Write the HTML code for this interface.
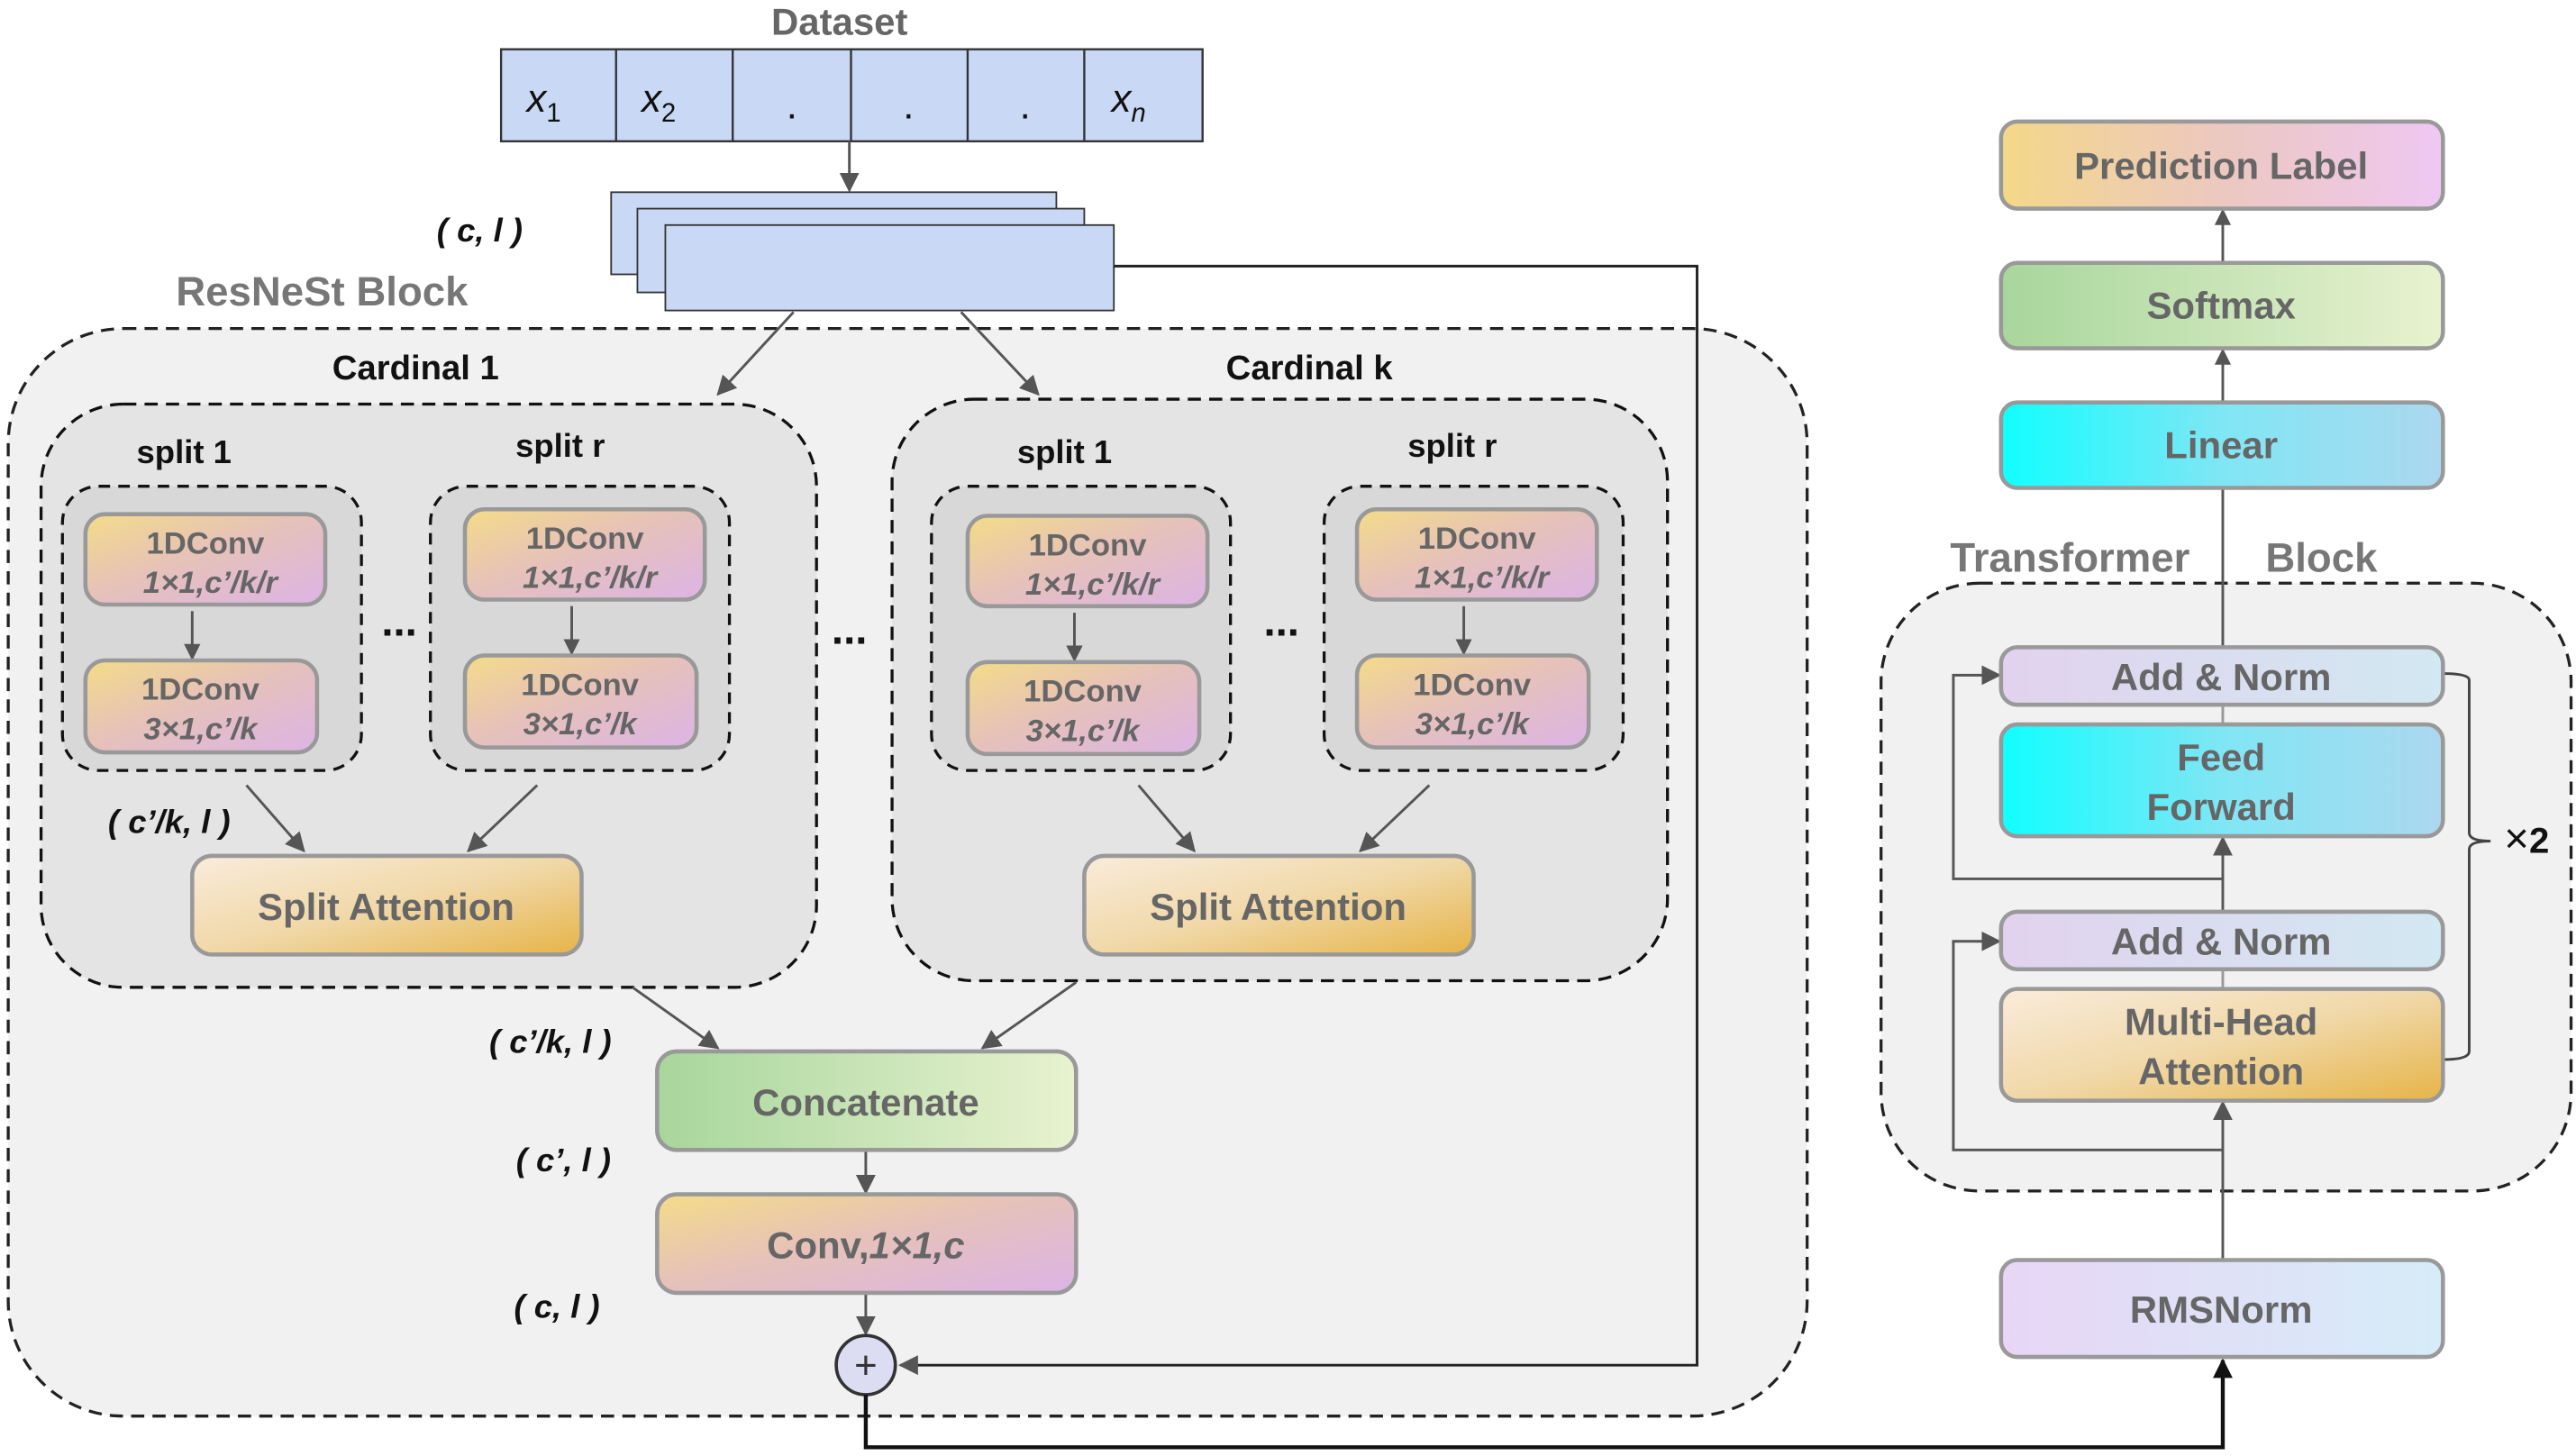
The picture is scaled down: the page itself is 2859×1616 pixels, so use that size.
<!DOCTYPE html>
<html><head><meta charset="utf-8"><style>
html,body{margin:0;padding:0;background:#fff;}
svg{display:block;}
text{font-family:"Liberation Sans",Arial,sans-serif;}
</style></head><body>
<svg width="2859" height="1616" viewBox="0 0 1568 886.3" preserveAspectRatio="none" xmlns="http://www.w3.org/2000/svg">
<defs>
<linearGradient id="gp" x1="0" y1="0" x2="1" y2="1"><stop offset="0" stop-color="#f4dc88"/><stop offset="0.45" stop-color="#e6c2b8"/><stop offset="1" stop-color="#dcb4e6"/></linearGradient>
<linearGradient id="ga" x1="0" y1="0" x2="1" y2="1"><stop offset="0" stop-color="#faecdc"/><stop offset="0.5" stop-color="#f0d8a8"/><stop offset="1" stop-color="#e6b448"/></linearGradient>
<linearGradient id="gg" x1="0" y1="0" x2="1" y2="0"><stop offset="0" stop-color="#a8d69c"/><stop offset="1" stop-color="#e8f2d0"/></linearGradient>
<linearGradient id="gc" x1="0" y1="0" x2="1" y2="0"><stop offset="0" stop-color="#10feff"/><stop offset="0.5" stop-color="#80e6f4"/><stop offset="1" stop-color="#acd8f0"/></linearGradient>
<linearGradient id="gl" x1="0" y1="0" x2="1" y2="0"><stop offset="0" stop-color="#e2d2ee"/><stop offset="1" stop-color="#d2e8f2"/></linearGradient>
<linearGradient id="gr" x1="0" y1="0" x2="1" y2="0"><stop offset="0" stop-color="#e8d6f6"/><stop offset="1" stop-color="#d6ecf8"/></linearGradient>
<linearGradient id="gpl" x1="0" y1="0" x2="1" y2="0"><stop offset="0" stop-color="#f4d888"/><stop offset="0.5" stop-color="#ecc8c0"/><stop offset="1" stop-color="#eec8f2"/></linearGradient>
<marker id="ah" viewBox="0 0 10 10" refX="9" refY="5" markerWidth="10" markerHeight="10" orient="auto" markerUnits="userSpaceOnUse"><path d="M0,0 L10,5 L0,10 z" fill="#555"/></marker>
<marker id="a2" viewBox="0 0 10 10" refX="9" refY="5" markerWidth="12" markerHeight="12" orient="auto" markerUnits="userSpaceOnUse"><path d="M0,0 L10,5 L0,10 z" fill="#555"/></marker>
<marker id="ak" viewBox="0 0 10 10" refX="9" refY="5" markerWidth="12" markerHeight="14" orient="auto" markerUnits="userSpaceOnUse"><path d="M0,0 L10,5 L0,10 z" fill="#111"/></marker>
</defs>

<!-- Dataset -->
<text x="511" y="21" text-anchor="middle" font-size="23" font-weight="bold" fill="#666">Dataset</text>
<rect x="305" y="30" width="427" height="56" fill="#c9d9f5" stroke="#333" stroke-width="1.3"/>
<g stroke="#333" stroke-width="1.3"><line x1="375" y1="30" x2="375" y2="86"/><line x1="446" y1="30" x2="446" y2="86"/><line x1="518" y1="30" x2="518" y2="86"/><line x1="589" y1="30" x2="589" y2="86"/><line x1="660" y1="30" x2="660" y2="86"/></g>
<g font-family="DejaVu Serif, serif" font-style="italic" font-size="24" fill="#111" text-anchor="middle">
<text x="331" y="68">x<tspan font-size="16" dy="6" font-style="normal">1</tspan></text>
<text x="401" y="68">x<tspan font-size="16" dy="6" font-style="normal">2</tspan></text>
<text x="482" y="72" font-style="normal">.</text><text x="553" y="72" font-style="normal">.</text><text x="624" y="72" font-style="normal">.</text>
<text x="687" y="68">x<tspan font-size="16" dy="6">n</tspan></text>
</g>
<line x1="517" y1="86" x2="517" y2="116" stroke="#555" stroke-width="1.6" marker-end="url(#a2)"/>

<!-- outer ResNeSt -->
<rect x="5" y="200" width="1095" height="662" rx="70" fill="#f1f1f1" stroke="#222" stroke-width="1.8" stroke-dasharray="8,5"/>
<text x="196" y="186" text-anchor="middle" font-size="25" font-weight="bold" fill="#777">ResNeSt Block</text>

<!-- stack -->
<rect x="372" y="117" width="271" height="50" fill="#c9d9f5" stroke="#333" stroke-width="1"/>
<rect x="388" y="127" width="272" height="51" fill="#c9d9f5" stroke="#333" stroke-width="1"/>
<rect x="405" y="137" width="273" height="52" fill="#c9d9f5" stroke="#333" stroke-width="1"/>
<text x="292" y="147" text-anchor="middle" font-size="20" font-weight="bold" font-style="italic" fill="#111">( c, l )</text>

<polyline points="678,162 1033,162 1033,831 548,831" fill="none" stroke="#222" stroke-width="1.6" marker-end="url(#a2)"/>

<line x1="483" y1="190" x2="437" y2="240" stroke="#555" stroke-width="1.6" marker-end="url(#a2)"/>
<line x1="585" y1="190" x2="632" y2="240" stroke="#555" stroke-width="1.6" marker-end="url(#a2)"/>

<text x="253" y="231" text-anchor="middle" font-size="21" font-weight="bold" fill="#111">Cardinal  1</text>
<text x="797" y="231" text-anchor="middle" font-size="21" font-weight="bold" fill="#111">Cardinal  k</text>

<rect x="25" y="246" width="472" height="355" rx="50" fill="#e4e4e4" stroke="#111" stroke-width="1.8" stroke-dasharray="8,5"/>
<rect x="543" y="243" width="472" height="354" rx="50" fill="#e4e4e4" stroke="#111" stroke-width="1.8" stroke-dasharray="8,5"/>

<g font-size="20" font-weight="bold" fill="#111" text-anchor="middle">
<text x="112" y="282">split 1</text><text x="341" y="278">split r</text>
<text x="648" y="282">split 1</text><text x="884" y="278">split r</text>
</g>
<g font-size="26" font-weight="bold" fill="#111" text-anchor="middle">
<text x="243" y="387">...</text><text x="517" y="392">...</text><text x="780" y="387">...</text>
</g>

<defs>
<rect id="sb" x="38" y="296" width="182" height="173" rx="22" fill="#d8d8d8" stroke="#111" stroke-width="1.8" stroke-dasharray="7,5"/>
<g id="sn">
<rect x="52" y="313" width="146" height="55" rx="12" fill="url(#gp)" stroke="#999" stroke-width="2.5"/>
<text x="125" y="337" text-anchor="middle" font-size="19" font-weight="bold" fill="#666">1DConv</text>
<text x="128" y="361" text-anchor="middle" font-size="19" font-weight="bold" font-style="italic" fill="#666">1×1,c’/k/r</text>
<line x1="117" y1="372" x2="117" y2="401" stroke="#555" stroke-width="1.6" marker-end="url(#ah)"/>
<rect x="52" y="402" width="141" height="56" rx="12" fill="url(#gp)" stroke="#999" stroke-width="2.5"/>
<text x="122" y="426" text-anchor="middle" font-size="19" font-weight="bold" fill="#666">1DConv</text>
<text x="122" y="450" text-anchor="middle" font-size="19" font-weight="bold" font-style="italic" fill="#666">3×1,c’/k</text>
</g>
</defs>
<use href="#sb"/><use href="#sn"/>
<use href="#sb" x="224"/><use href="#sn" x="231" y="-3"/>
<use href="#sb" x="529"/><use href="#sn" x="537" y="1"/>
<use href="#sb" x="768"/><use href="#sn" x="774" y="-3"/>

<text x="103" y="507" text-anchor="middle" font-size="20" font-weight="bold" font-style="italic" fill="#111">( c’/k, l )</text>

<g stroke="#555" stroke-width="1.6">
<line x1="150" y1="478" x2="185" y2="518" marker-end="url(#a2)"/>
<line x1="327" y1="478" x2="285" y2="518" marker-end="url(#a2)"/>
<line x1="693" y1="478" x2="727" y2="518" marker-end="url(#a2)"/>
<line x1="870" y1="478" x2="828" y2="518" marker-end="url(#a2)"/>
<line x1="385" y1="601" x2="437" y2="638" marker-end="url(#a2)"/>
<line x1="655" y1="598" x2="598" y2="638" marker-end="url(#a2)"/>
<line x1="527" y1="700" x2="527" y2="726" marker-end="url(#a2)"/>
<line x1="527" y1="787" x2="527" y2="812" marker-end="url(#a2)"/>
</g>
<rect x="117" y="521" width="237" height="60" rx="12" fill="url(#ga)" stroke="#999" stroke-width="2.5"/>
<text x="235" y="560" text-anchor="middle" font-size="23" font-weight="bold" fill="#666">Split Attention</text>
<rect x="660" y="521" width="237" height="60" rx="12" fill="url(#ga)" stroke="#999" stroke-width="2.5"/>
<text x="778" y="560" text-anchor="middle" font-size="23" font-weight="bold" fill="#666">Split Attention</text>

<g font-size="20" font-weight="bold" font-style="italic" fill="#111" text-anchor="middle">
<text x="335" y="641">( c’/k, l )</text>
<text x="343" y="713">( c’, l )</text>
<text x="339" y="802">( c, l )</text>
</g>
<rect x="400" y="640" width="255" height="60" rx="12" fill="url(#gg)" stroke="#999" stroke-width="2.5"/>
<text x="527" y="679" text-anchor="middle" font-size="23" font-weight="bold" fill="#666">Concatenate</text>
<rect x="400" y="727" width="255" height="60" rx="12" fill="url(#gp)" stroke="#999" stroke-width="2.5"/>
<text x="527" y="766" text-anchor="middle" font-size="23" font-weight="bold" fill="#666">Conv,<tspan font-style="italic">1×1,c</tspan></text>

<circle cx="527" cy="831" r="18" fill="#dcdcf2" stroke="#333" stroke-width="2"/>
<text x="527" y="839" text-anchor="middle" font-size="24" fill="#333">+</text>
<polyline points="527,849 527,881 1353,881 1353,828" fill="none" stroke="#111" stroke-width="2.4" marker-end="url(#ak)"/>

<!-- right side -->
<rect x="1145" y="355" width="420" height="370" rx="60" fill="#f1f1f1" stroke="#222" stroke-width="1.8" stroke-dasharray="8,5"/>
<rect x="1342" y="325" width="22" height="28" fill="#fff"/>
<line x1="1353" y1="297" x2="1353" y2="394" stroke="#555" stroke-width="1.6"/>
<text x="1260" y="348" text-anchor="middle" font-size="25" font-weight="bold" fill="#777">Transformer</text>
<text x="1413" y="348" text-anchor="middle" font-size="25" font-weight="bold" fill="#777">Block</text>

<g stroke="#555" stroke-width="1.6">
<line x1="1353" y1="160" x2="1353" y2="128" marker-end="url(#ah)"/>
<line x1="1353" y1="245" x2="1353" y2="213" marker-end="url(#ah)"/>
<line x1="1353" y1="429" x2="1353" y2="441" stroke="#999"/>
<line x1="1353" y1="590" x2="1353" y2="602" stroke="#999"/>
<line x1="1353" y1="555" x2="1353" y2="510" marker-end="url(#a2)"/>
<line x1="1353" y1="767" x2="1353" y2="671" marker-end="url(#a2)"/>
<polyline points="1353,535 1189,535 1189,411 1217,411" fill="none" marker-end="url(#a2)"/>
<polyline points="1353,700 1189,700 1189,573 1217,573" fill="none" marker-end="url(#a2)"/>
</g>
<path d="M1487,410 Q1503,410 1503,414 L1503,507 Q1503,512 1516,512 Q1503,512 1503,517 L1503,640 Q1503,645 1487,645" fill="none" stroke="#444" stroke-width="1.6"/>
<text x="1538" y="519" text-anchor="middle" font-size="22" font-weight="bold" fill="#111"><tspan font-weight="normal" font-size="26">×</tspan>2</text>

<rect x="1218" y="74" width="269" height="53" rx="10" fill="url(#gpl)" stroke="#999" stroke-width="2.5"/>
<text x="1352" y="109" text-anchor="middle" font-size="23" font-weight="bold" fill="#666">Prediction Label</text>
<rect x="1218" y="160" width="269" height="52" rx="10" fill="url(#gg)" stroke="#999" stroke-width="2.5"/>
<text x="1352" y="194" text-anchor="middle" font-size="23" font-weight="bold" fill="#666">Softmax</text>
<rect x="1218" y="245" width="269" height="52" rx="10" fill="url(#gc)" stroke="#999" stroke-width="2.5"/>
<text x="1352" y="279" text-anchor="middle" font-size="23" font-weight="bold" fill="#666">Linear</text>

<rect x="1218" y="394" width="269" height="35" rx="10" fill="url(#gl)" stroke="#999" stroke-width="2.5"/>
<text x="1352" y="420" text-anchor="middle" font-size="23" font-weight="bold" fill="#666">Add &amp; Norm</text>
<rect x="1218" y="441" width="269" height="68" rx="10" fill="url(#gc)" stroke="#999" stroke-width="2.5"/>
<text x="1352" y="469" text-anchor="middle" font-size="23" font-weight="bold" fill="#666">Feed</text>
<text x="1352" y="499" text-anchor="middle" font-size="23" font-weight="bold" fill="#666">Forward</text>
<rect x="1218" y="555" width="269" height="35" rx="10" fill="url(#gl)" stroke="#999" stroke-width="2.5"/>
<text x="1352" y="581" text-anchor="middle" font-size="23" font-weight="bold" fill="#666">Add &amp; Norm</text>
<rect x="1218" y="602" width="269" height="68" rx="10" fill="url(#ga)" stroke="#999" stroke-width="2.5"/>
<text x="1352" y="630" text-anchor="middle" font-size="23" font-weight="bold" fill="#666">Multi-Head</text>
<text x="1352" y="660" text-anchor="middle" font-size="23" font-weight="bold" fill="#666">Attention</text>
<rect x="1218" y="767" width="269" height="59" rx="10" fill="url(#gr)" stroke="#999" stroke-width="2.5"/>
<text x="1352" y="805" text-anchor="middle" font-size="23" font-weight="bold" fill="#666">RMSNorm</text>
</svg>
</body></html>
